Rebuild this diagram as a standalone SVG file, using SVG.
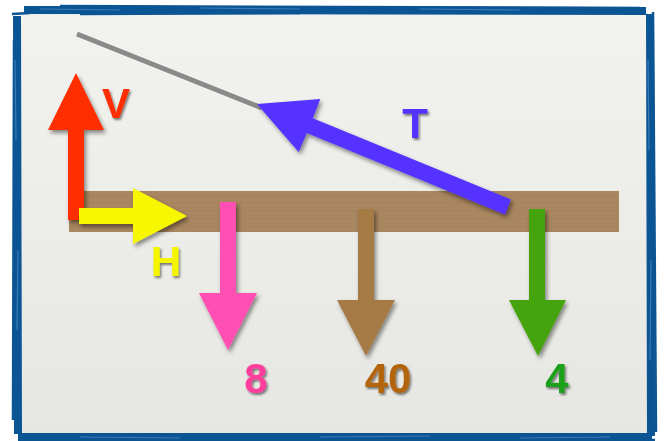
<svg xmlns="http://www.w3.org/2000/svg" width="667" height="441" viewBox="0 0 667 441">
  <defs>
    <style>
      .lbl { font-family: "Liberation Sans", Arial, sans-serif; font-weight: bold; font-size: 42px; text-anchor: middle; }
      .arrow { filter: url(#shadow); }
      .frame { fill: none; stroke: #0b5595; stroke-linejoin: miter; }
      .streak { fill: none; stroke: #4a88c0; stroke-width: 1.2; opacity: 0.75; }
      .grain { stroke: #9a7852; stroke-width: 1; opacity: 0.35; }
    </style>
    <linearGradient id="panelGrad" x1="0" y1="0" x2="0" y2="1">
      <stop offset="0" stop-color="#f2f2ef"/>
      <stop offset="1" stop-color="#e6e6e2"/>
    </linearGradient>
    <filter id="shadow" x="-20%" y="-20%" width="140%" height="140%">
      <feDropShadow dx="2" dy="3" stdDeviation="2" flood-color="#000" flood-opacity="0.45"/>
    </filter>
    <filter id="tshadow" x="-20%" y="-20%" width="140%" height="140%">
      <feDropShadow dx="1.5" dy="2" stdDeviation="1.2" flood-color="#000" flood-opacity="0.5"/>
    </filter>
  </defs>

  <rect x="0" y="0" width="667" height="441" fill="#ffffff"/>

  <g id="panel">
    <rect x="19" y="12" width="629" height="424" fill="url(#panelGrad)"/>
  </g>

  <g id="frame">
    <path class="frame" d="M24,10 L646,11 M17,16 L18,434 M18,437 L652,437 M650,14 L651,436" stroke-width="8"/>
    <path class="frame" d="M12,14 L30,13 M14,40 L13,420 M22,440 L655,440 M653,12 L656,432 M60,6 L640,8 M80,14 L300,13" stroke-width="2.5"/>
    <path class="streak" d="M40,9 L120,10 M200,8 L300,9 M420,9 L520,10 M15,60 L16,140 M18,250 L17,330 M648,60 L649,150 M651,260 L650,360 M80,437 L180,438 M320,437 L430,436 M520,438 L610,437"/>
  </g>

  <g id="cable">
    <line x1="77" y1="34" x2="262" y2="108" stroke="#8a8a8a" stroke-width="5"/>
  </g>

  <g id="beam">
    <rect x="69" y="191" width="550" height="41" fill="#a98760"/>
    <path class="grain" d="M69,196 H619 M69,203 H619 M69,211 H619 M69,219 H619 M69,227 H619"/>
  </g>

  <g id="connectors">
    <g id="arrow-V" class="arrow">
      <polygon points="68,220 84,220 84,130 104,130 76,73 48,130 68,130" fill="#ff2e00"/>
    </g>
    <g id="arrow-H" class="arrow">
      <polygon points="79,208 133,208 133,188 187,216 133,244 133,224 79,224" fill="#f7f700"/>
    </g>
    <g id="arrow-T" class="arrow">
      <polygon points="257,104 320.3,99.1 312.8,118.3 511,199.6 505,214.4 306.8,133.1 298.7,151.9" fill="#5533ff"/>
    </g>
    <g id="arrow-8" class="arrow">
      <polygon points="220,202 236,202 236,293 257,293 228,350 199,293 220,293" fill="#ff4fb3"/>
    </g>
    <g id="arrow-40" class="arrow">
      <polygon points="358,209 374,209 374,300 395,300 366,356 337,300 358,300" fill="#a67a45"/>
    </g>
    <g id="arrow-4" class="arrow">
      <polygon points="529,209 545,209 545,300 566,300 538,356 509,300 529,300" fill="#45a30a"/>
    </g>
  </g>

  <g id="labels" filter="url(#tshadow)">
    <text class="lbl" x="116" y="118" fill="#ff2e00">V</text>
    <text class="lbl" x="415" y="138" fill="#5533ff">T</text>
    <text class="lbl" x="166" y="276" fill="#f5f500">H</text>
    <text class="lbl" x="256" y="393" fill="#ff3c9c">8</text>
    <text class="lbl" x="388" y="393" fill="#b2650e">40</text>
    <text class="lbl" x="557" y="393" fill="#1ea01a">4</text>
  </g>
</svg>
